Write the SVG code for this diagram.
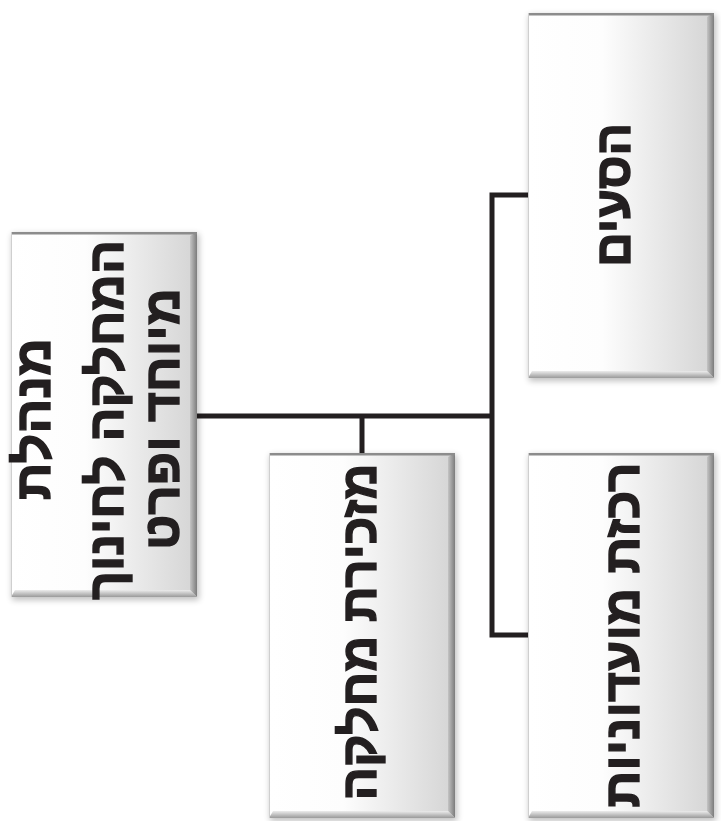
<svg xmlns="http://www.w3.org/2000/svg" xmlns:xlink="http://www.w3.org/1999/xlink" width="721" height="821" viewBox="0 0 721 821">
<style>
.lbl{font-family:"Liberation Sans","DejaVu Sans",sans-serif;font-weight:bold;font-size:50px;fill:#231f20;stroke:#231f20;stroke-width:1.4;text-anchor:middle}
.con{fill:none;stroke:#231f20;stroke-width:5;stroke-linecap:butt;stroke-linejoin:miter}
</style>
<defs>
<linearGradient id="face" x1="0" y1="0" x2="1" y2="0">
<stop offset="0" stop-color="#ffffff"/>
<stop offset="0.4" stop-color="#fdfdfd"/>
<stop offset="1" stop-color="#d4d4d4"/>
</linearGradient>
<linearGradient id="rband" x1="0" y1="0" x2="1" y2="0">
<stop offset="0" stop-color="#c4c4c4"/>
<stop offset="1" stop-color="#7c7c7c"/>
</linearGradient>
<linearGradient id="bband" x1="0" y1="0" x2="0" y2="1">
<stop offset="0" stop-color="#ececec"/>
<stop offset="1" stop-color="#9a9a9a"/>
</linearGradient>
<filter id="sh" x="-10%" y="-10%" width="120%" height="120%">
<feGaussianBlur stdDeviation="3"/>
</filter>
<g id="box">
<rect x="1" y="2" width="187" height="366" fill="#000" opacity="0.25" filter="url(#sh)"/>
<rect x="0" y="0" width="186" height="365" fill="url(#face)"/>
<polygon points="186,0 186,365 179,358 179,4" fill="url(#rband)"/>
<polygon points="0,365 186,365 179,358 4,358" fill="url(#bband)"/>
<rect x="0" y="0" width="186" height="2.5" fill="#8c8c8c"/>
<rect x="0" y="0" width="1" height="365" fill="#cfcfcf"/>
</g>
</defs>
<g id="connectors">
<path class="con" d="M196,416 H492"/>
<path class="con" d="M362,416 V453"/>
<path class="con" d="M529,195 H492 V635 H529"/>
</g>
<g id="n-root">
<use xlink:href="#box" x="11" y="232"/>
<text class="lbl" transform="translate(50,419) rotate(-90)" textLength="162" lengthAdjust="spacingAndGlyphs">מנהלת</text>
<text class="lbl" transform="translate(123,420) rotate(-90)" textLength="360" lengthAdjust="spacingAndGlyphs">המחלקה לחינוך</text>
<text class="lbl" transform="translate(179,419) rotate(-90)" textLength="262" lengthAdjust="spacingAndGlyphs">מיוחד ופרט</text>
</g>
<g id="n-secretary">
<use xlink:href="#box" x="269" y="453"/>
<text class="lbl" transform="translate(376,632) rotate(-90)" textLength="337" lengthAdjust="spacingAndGlyphs">מזכירת מחלקה</text>
</g>
<g id="n-transport">
<use xlink:href="#box" x="528" y="13"/>
<text class="lbl" transform="translate(630,195) rotate(-90)" textLength="144" lengthAdjust="spacingAndGlyphs">הסעים</text>
</g>
<g id="n-clubs">
<use xlink:href="#box" x="528" y="453"/>
<text class="lbl" transform="translate(639,635) rotate(-90)" textLength="345" lengthAdjust="spacingAndGlyphs">רכזת מועדוניות</text>
</g>
</svg>
